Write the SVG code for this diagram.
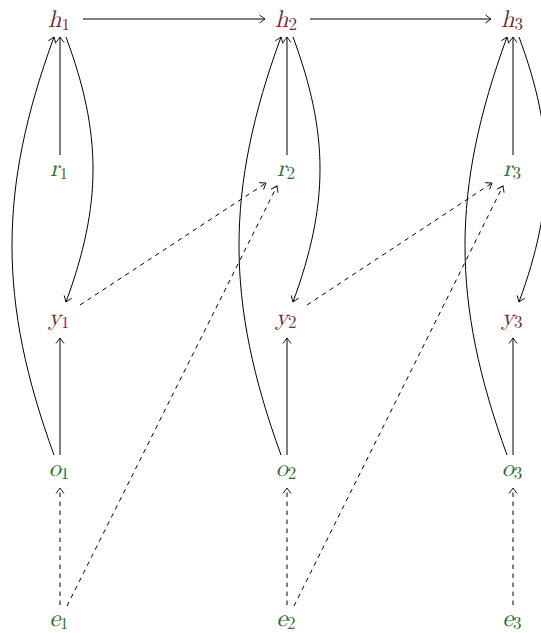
<svg xmlns="http://www.w3.org/2000/svg" width="541" height="633" viewBox="0 0 541 633">
<style>
.lbl{font-family:"Latin Modern Math","Liberation Serif","DejaVu Serif",serif;font-size:24px;text-anchor:middle}
.v{font-style:italic}
.s{font-size:17px;font-style:normal}
.red{fill:#6e2b2b}
.grn{fill:#2c6a2c}
.e{fill:none;stroke:#000;stroke-width:1}
.d{stroke-dasharray:4.5 4.5}
</style>
<defs>
<marker id="a" markerUnits="userSpaceOnUse" markerWidth="12" markerHeight="12" viewBox="-7 -6 8 12" refX="0" refY="0" orient="auto">
<path d="M-5.5,-4 Q-1.5,-1 0,0 Q-1.5,1 -5.5,4" fill="none" stroke="#000" stroke-width="0.9"/>
</marker>
</defs>
<g id="connectors">
<path class="e" d="M83,19 H265" marker-end="url(#a)"/>
<path class="e" d="M310,19 H491" marker-end="url(#a)"/>
<path class="e" d="M60,155 V37" marker-end="url(#a)"/>
<path class="e" d="M287,155 V37" marker-end="url(#a)"/>
<path class="e" d="M513,155 V37" marker-end="url(#a)"/>
<path class="e" d="M60,455 V338" marker-end="url(#a)"/>
<path class="e" d="M287,455 V338" marker-end="url(#a)"/>
<path class="e" d="M513,455 V338" marker-end="url(#a)"/>
<path class="e d" d="M60,605 V488" marker-end="url(#a)"/>
<path class="e d" d="M287,605 V488" marker-end="url(#a)"/>
<path class="e d" d="M513,605 V488" marker-end="url(#a)"/>
<path class="e" d="M54,455 C-2,301 -2,190 54,37" marker-end="url(#a)"/>
<path class="e" d="M281,455 C225,301 225,190 281,37" marker-end="url(#a)"/>
<path class="e" d="M507,455 C451,301 451,190 507,37" marker-end="url(#a)"/>
<path class="e" d="M66,37 C102,134 102,204 66,302" marker-end="url(#a)"/>
<path class="e" d="M293,37 C329,134 329,204 293,302" marker-end="url(#a)"/>
<path class="e" d="M519,37 C555,134 555,204 519,302" marker-end="url(#a)"/>
<path class="e d" d="M80,305 L266,183" marker-end="url(#a)"/>
<path class="e d" d="M307,305 L492,183" marker-end="url(#a)"/>
<path class="e d" d="M67,606 L277,186" marker-end="url(#a)"/>
<path class="e d" d="M294,606 L503,186" marker-end="url(#a)"/>
</g>
<g id="h1"><text class="lbl red" x="59" y="27"><tspan class="v">h</tspan><tspan class="s" dy="3">1</tspan></text></g>
<g id="h2"><text class="lbl red" x="286" y="27"><tspan class="v">h</tspan><tspan class="s" dy="3">2</tspan></text></g>
<g id="h3"><text class="lbl red" x="512" y="27"><tspan class="v">h</tspan><tspan class="s" dy="3">3</tspan></text></g>
<g id="r1"><text class="lbl grn" x="59" y="176"><tspan class="v">r</tspan><tspan class="s" dy="3">1</tspan></text></g>
<g id="r2"><text class="lbl grn" x="286" y="176"><tspan class="v">r</tspan><tspan class="s" dy="3">2</tspan></text></g>
<g id="r3"><text class="lbl grn" x="512" y="176"><tspan class="v">r</tspan><tspan class="s" dy="3">3</tspan></text></g>
<g id="y1"><text class="lbl red" x="59" y="325"><tspan class="v">y</tspan><tspan class="s" dy="3">1</tspan></text></g>
<g id="y2"><text class="lbl red" x="286" y="325"><tspan class="v">y</tspan><tspan class="s" dy="3">2</tspan></text></g>
<g id="y3"><text class="lbl red" x="512" y="325"><tspan class="v">y</tspan><tspan class="s" dy="3">3</tspan></text></g>
<g id="o1"><text class="lbl grn" x="59" y="476"><tspan class="v">o</tspan><tspan class="s" dy="3">1</tspan></text></g>
<g id="o2"><text class="lbl grn" x="286" y="476"><tspan class="v">o</tspan><tspan class="s" dy="3">2</tspan></text></g>
<g id="o3"><text class="lbl grn" x="512" y="476"><tspan class="v">o</tspan><tspan class="s" dy="3">3</tspan></text></g>
<g id="e1"><text class="lbl grn" x="59" y="626"><tspan class="v">e</tspan><tspan class="s" dy="3">1</tspan></text></g>
<g id="e2"><text class="lbl grn" x="286" y="626"><tspan class="v">e</tspan><tspan class="s" dy="3">2</tspan></text></g>
<g id="e3"><text class="lbl grn" x="512" y="626"><tspan class="v">e</tspan><tspan class="s" dy="3">3</tspan></text></g>
</svg>
